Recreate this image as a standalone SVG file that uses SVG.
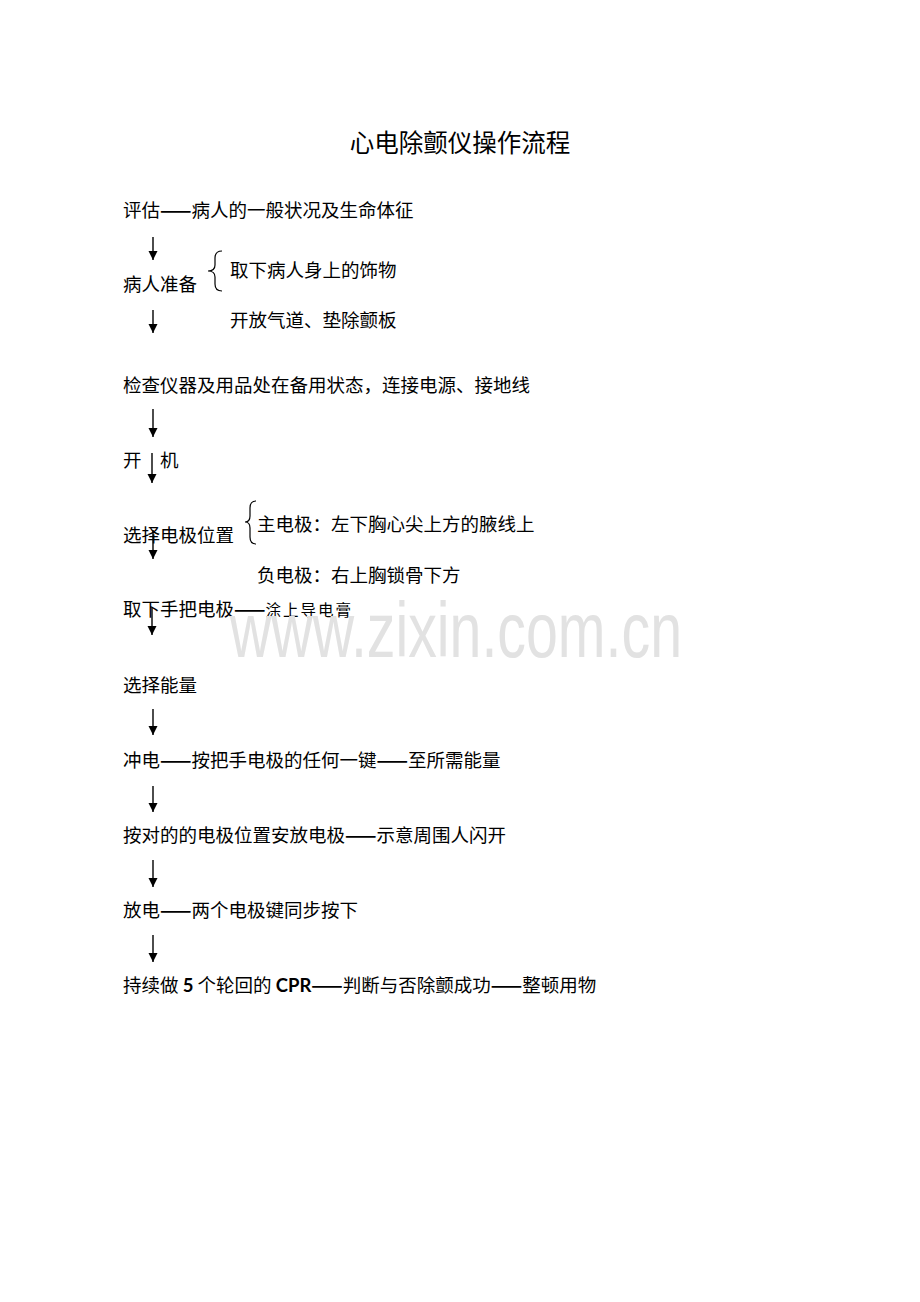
<svg xmlns="http://www.w3.org/2000/svg" width="920" height="1302" viewBox="0 0 920 1302">
<style>
  .t { font-family: "Noto Sans CJK SC", "Noto Sans", sans-serif; font-size: 18.5px; fill: #000; }
  .title { font-family: "Noto Sans CJK SC", "Noto Sans", sans-serif; font-size: 24.5px; fill: #000; }
  .b { font-family: Lato, "Open Sans", "Noto Sans", sans-serif; font-weight: bold; }
  .d { font-weight: bold; }
  .small { font-size: 15.5px; letter-spacing: 2px; }
  .arrow { stroke: #000; stroke-width: 1.4; fill: none; marker-end: url(#ah); }
  .brace { stroke: #000; stroke-width: 1.2; fill: none; }
  .wm { font-family: "Liberation Sans", Arial, sans-serif; font-size: 77px; fill: #e2e2e2; }
</style>
<defs>
  <marker id="ah" markerUnits="userSpaceOnUse" markerWidth="10" markerHeight="10" refX="9" refY="4.5" orient="auto">
    <path d="M0,0 L9,4.5 L0,9 Z" fill="#000"/>
  </marker>
</defs>
<rect width="920" height="1302" fill="#fff"/>

<g id="title"><text class="title" x="460" y="152" text-anchor="middle">心电除颤仪操作流程</text></g>

<g id="n1"><text class="t" x="123" y="217">评估<tspan class="d">——</tspan>病人的一般状况及生命体征</text></g>
<g id="n2"><text class="t" x="123" y="291">病人准备</text>
  <path class="brace" d="M222,251 Q215,251 215,258 L215,265 Q215,271 208,271 Q215,271 215,277 L215,284 Q215,291 222,291"/>
  <text class="t" x="230" y="277">取下病人身上的饰物</text>
  <text class="t" x="230" y="327">开放气道、垫除颤板</text>
</g>
<g id="n3"><text class="t" x="123" y="392">检查仪器及用品处在备用状态，连接电源、接地线</text></g>
<g id="n4"><text class="t" x="123" y="467">开</text><text class="t" x="160" y="467">机</text></g>
<g id="n5"><text class="t" x="123" y="542">选择电极位置</text>
  <path class="brace" d="M256,501 Q250,501 250,508 L250,516 Q250,522 245,522 Q250,522 250,528 L250,537 Q250,544 256,544"/>
  <text class="t" x="257" y="531">主电极：左下胸心尖上方的腋线上</text>
  <text class="t" x="257" y="582">负电极：右上胸锁骨下方</text>
</g>
<g id="n6"><text class="t" x="123" y="616">取下手把电极<tspan class="d">——</tspan><tspan class="small">涂上导电膏</tspan></text></g>
<g id="n7"><text class="t" x="123" y="692">选择能量</text></g>
<g id="n8"><text class="t" x="123" y="767">冲电<tspan class="d">——</tspan>按把手电极的任何一键<tspan class="d">——</tspan>至所需能量</text></g>
<g id="n9"><text class="t" x="123" y="842">按对的的电极位置安放电极<tspan class="d">——</tspan>示意周围人闪开</text></g>
<g id="n10"><text class="t" x="123" y="917">放电<tspan class="d">——</tspan>两个电极键同步按下</text></g>
<g id="n11"><text class="t" x="123" y="992">持续做 <tspan class="b">5</tspan> 个轮回的 <tspan class="b">CPR</tspan><tspan class="d">——</tspan>判断与否除颤成功<tspan class="d">——</tspan>整顿用物</text></g>

<g id="connectors">
  <line class="arrow" x1="153" y1="237" x2="153" y2="260"/>
  <line class="arrow" x1="153" y1="310" x2="153" y2="333"/>
  <line class="arrow" x1="153" y1="409" x2="153" y2="437"/>
  <line class="arrow" x1="152" y1="453" x2="152" y2="483"/>
  <line class="arrow" x1="153" y1="530" x2="153" y2="559"/>
  <line class="arrow" x1="152" y1="608" x2="152" y2="635"/>
  <line class="arrow" x1="153" y1="709" x2="153" y2="735"/>
  <line class="arrow" x1="153" y1="786" x2="153" y2="812"/>
  <line class="arrow" x1="153" y1="860" x2="153" y2="887"/>
  <line class="arrow" x1="153" y1="935" x2="153" y2="962"/>
</g>

<g id="watermark"><text class="wm" x="230" y="657" textLength="452" lengthAdjust="spacingAndGlyphs">www.zixin.com.cn</text></g>
</svg>
